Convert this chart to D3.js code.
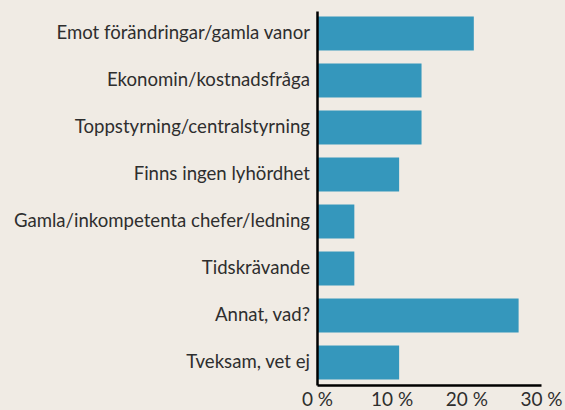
<!DOCTYPE html>
<html>
<head>
<meta charset="utf-8">
<script src="https://cdn.jsdelivr.net/npm/d3@7"></script>
<style>
  body { margin: 0; background: #f0ebe4; }
  svg { display: block; }
  .axis text { font-family: Lato, "Open Sans", sans-serif; fill: #2e2e2e; }
  .axis path { stroke: #000; stroke-width: 2.5; }
</style>
</head>
<body>
<script>
const categories = [
  "Emot förändringar/gamla vanor",
  "Ekonomin/kostnadsfråga",
  "Toppstyrning/centralstyrning",
  "Finns ingen lyhördhet",
  "Gamla/inkompetenta chefer/ledning",
  "Tidskrävande",
  "Annat, vad?",
  "Tveksam, vet ej"
];
const values = [21, 14, 14, 11, 5, 5, 27, 11];
const xTicks = [0, 10, 20, 30];

const svgWidth = 565, svgHeight = 410;
const margin = { top: 11, right: 24, bottom: 25, left: 317 };

const x = d3.scaleLinear().domain([0, 30]).range([margin.left, svgWidth - margin.right]);
const y = d3.scaleBand()
  .domain(categories)
  .range([margin.top, svgHeight - margin.bottom])
  .paddingInner(0.277)
  .paddingOuter(0.117);

const svg = d3.select("body").append("svg")
  .attr("width", svgWidth)
  .attr("height", svgHeight);

svg.append("g")
  .selectAll("rect")
  .data(values)
  .enter()
  .append("rect")
  .attr("x", x(0))
  .attr("y", (d, i) => y(categories[i]))
  .attr("width", (d) => x(d) - x(0))
  .attr("height", y.bandwidth())
  .attr("fill", "#3597bc");

// y axis
const yAxis = d3.axisLeft(y).tickSize(0).tickPadding(7);
svg.append("g")
  .attr("class", "axis")
  .attr("transform", "translate(" + x(0) + ",0)")
  .call(yAxis)
  .selectAll("text")
  .style("font-size", "18.6px");

// x axis
const xAxis = d3.axisBottom(x)
  .tickValues(xTicks)
  .tickSize(0)
  .tickPadding(8)
  .tickFormat((d) => d + " %");
svg.append("g")
  .attr("class", "axis")
  .attr("transform", "translate(0," + (svgHeight - margin.bottom) + ")")
  .call(xAxis)
  .selectAll("text")
  .style("font-size", "19px");
</script>
</body>
</html>
